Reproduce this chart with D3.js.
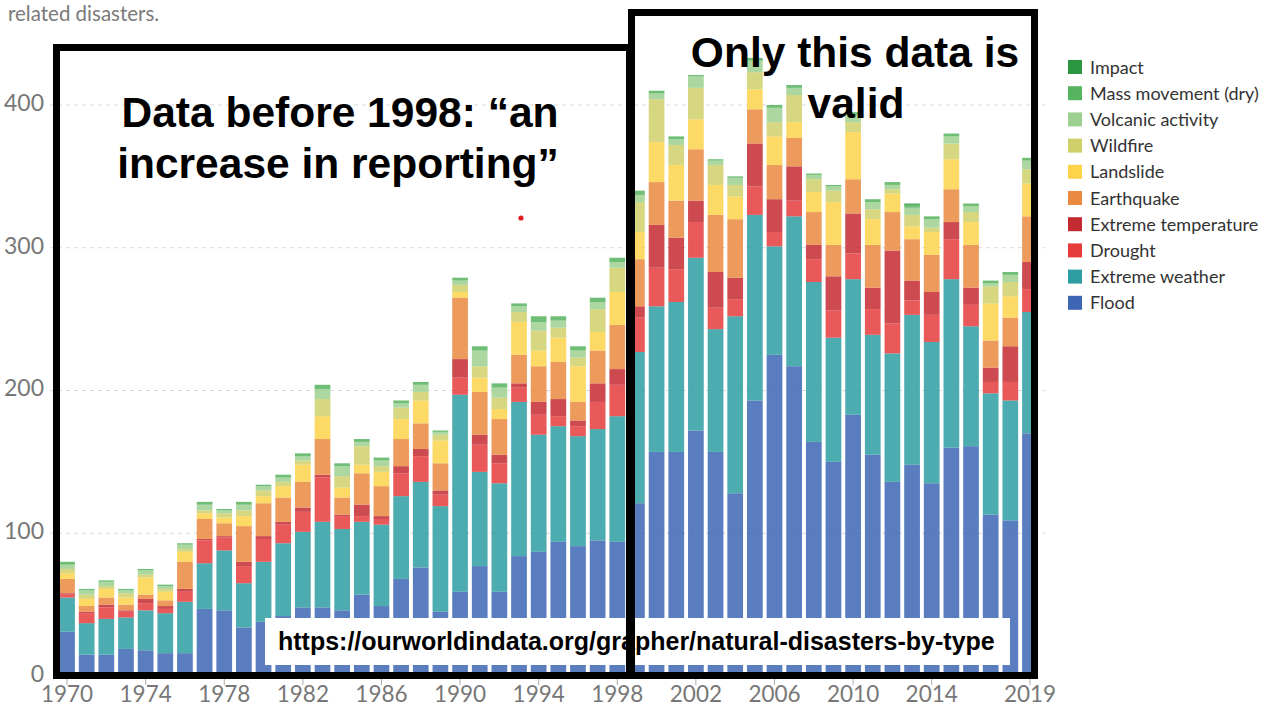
<!DOCTYPE html>
<html><head><meta charset="utf-8">
<script src="https://cdn.jsdelivr.net/npm/d3@7"></script>
<style>body{margin:0;background:#fff}svg{display:block}</style>
</head><body>
<svg id="chart" width="1274" height="708"></svg>
<script>
const years = d3.range(1970, 2020);
const seriesNames = ["Flood","Extreme weather","Drought","Extreme temperature","Earthquake","Landslide","Wildfire","Volcanic activity","Mass movement (dry)","Impact"];
const seriesColors = ["#3d66b4","#2e9ea2","#e63c3c","#c42a32","#ea8a40","#fdd34a","#cfd06a","#9dd090","#56b35e","#2a9640"];
const flood = [31,15,15,19,18,16,16,47,46,34, 38,42,48,48,46,57,49,68,76,45, 59,77,59,84,87,94,91,95,94,121, 157,157,172,157,128,193,225,217,164,150, 183,155,136,148,135,160,161,113,109,170];
const extremeWeather = [24,22,25,22,28,28,36,32,42,31, 42,51,53,60,57,51,57,58,60,74, 138,66,76,108,82,81,77,78,88,106, 102,105,121,86,124,130,76,105,112,87, 95,84,90,105,99,118,84,85,84,85];
const drought = [2,7,8,4,5,3,7,16,9,12, 16,13,14,31,9,4,4,16,18,8, 12,19,14,10,14,7,7,19,22,24, 27,23,25,15,12,20,10,11,16,19, 18,18,21,10,19,28,15,8,13,16];
const extremeTemperature = [1,1,2,1,3,2,2,1,1,3, 2,2,3,2,1,8,2,5,5,3, 13,7,6,3,9,12,4,13,11,8, 30,22,15,25,15,30,23,24,10,24, 28,15,51,14,16,12,12,10,25,19];
const earthquake = [10,4,5,4,3,4,19,14,9,25, 23,17,18,25,12,22,21,19,18,19, 43,30,25,20,25,26,13,23,31,33, 30,26,36,40,41,24,24,20,23,22, 24,30,27,29,26,23,30,19,20,32];
const landslide = [4,5,6,5,12,6,7,4,4,7, 5,8,12,16,7,6,10,14,16,16, 4,10,7,23,11,17,25,13,23,19, 28,25,21,21,16,14,20,11,14,30, 33,18,13,9,16,21,16,26,15,23];
const wildfire = [3,3,2,3,2,2,2,2,3,4, 4,3,3,12,8,13,4,8,6,4, 5,8,8,7,14,7,6,16,17,21, 30,14,22,14,8,12,10,19,9,8, 7,7,3,8,3,11,7,12,10,10];
const volcanic = [3,3,3,2,3,2,3,4,2,4, 3,3,3,7,7,3,4,3,5,2, 3,11,7,4,6,5,5,5,4,5, 4,4,8,3,5,8,10,5,3,3, 5,5,3,5,6,5,4,2,5,6];
const massMovement = [2,1,1,1,1,1,1,2,1,2, 1,2,2,3,2,2,2,2,2,1, 2,3,3,2,4,3,3,3,3,3, 2,2,1,1,1,2,2,2,1,1, 2,2,2,2,2,2,2,2,2,2];
const impact = years.map(y => y === 2013 ? 1 : 0);
const yTicks = [0,100,200,300,400];
const xTickYears = [1970,1974,1978,1982,1986,1990,1994,1998,2002,2006,2010,2014,2019];

const seriesValues = [flood, extremeWeather, drought, extremeTemperature, earthquake, landslide, wildfire, volcanic, massMovement, impact];
const table = years.map((yr, i) => {
  const row = {year: yr};
  seriesNames.forEach((n, k) => row[n] = seriesValues[k][i]);
  return row;
});

const svg = d3.select("#chart");
const x = d3.scaleBand().domain(years).range([57.2, 1039.8]).paddingInner(0.2).paddingOuter(0.1);
const y = d3.scaleLinear().domain([0, 400]).range([676, 105]);
const color = d3.scaleOrdinal().domain(seriesNames).range(seriesColors);

// subtitle (second line visible)
svg.append("text").attr("x", 8).attr("y", 21).attr("font-family", "Lato").attr("font-size", 20.5).attr("fill", "#7a7a7a").text("related disasters.");

// gridlines
svg.append("g").selectAll("line").data(yTicks.filter(d => d > 0)).join("line")
  .attr("x1", 50).attr("x2", 1045).attr("y1", d => y(d)).attr("y2", d => y(d))
  .attr("stroke", "#dadada").attr("stroke-dasharray", "4,4");

// y labels
const yAxis = d3.axisLeft(y).tickValues(yTicks).tickSize(0).tickPadding(0);
const gy = svg.append("g").attr("transform", "translate(44,-2)").call(yAxis);
gy.select(".domain").remove();
gy.selectAll("text").attr("font-family", "Lato").attr("font-size", 23).attr("fill", "#777");

// stacked bars
const stack = d3.stack().keys(seriesNames)(table);
svg.append("g").selectAll("g").data(stack).join("g")
  .attr("fill", d => color(d.key)).attr("fill-opacity", 0.85)
  .selectAll("rect").data(d => d).join("rect")
  .attr("x", d => x(d.data.year)).attr("width", x.bandwidth())
  .attr("y", d => y(d[1])).attr("height", d => Math.max(0, y(d[0]) - y(d[1])));

// x axis
const xAxis = d3.axisBottom(x).tickValues(xTickYears).tickSize(6).tickPadding(1);
const gx = svg.append("g").attr("transform", "translate(0,679)").call(xAxis);
gx.select(".domain").remove();
gx.selectAll(".tick line").attr("stroke", "#aaa");
gx.selectAll("text").attr("font-family", "Lato").attr("font-size", 22.5).attr("fill", "#777");

// legend
const lg = svg.append("g").attr("transform", "translate(1068,60)");
const legendOrder = seriesNames.slice().reverse();
const li = lg.selectAll("g").data(legendOrder).join("g").attr("transform", (d, i) => `translate(0,${i * 26.2})`);
li.append("rect").attr("width", 14).attr("height", 14).attr("fill", d => color(d));
li.append("text").attr("x", 22).attr("y", 13.5).attr("font-family", "Lato").attr("font-size", 18).attr("fill", "#333").text(d => d);

// URL box
svg.append("rect").attr("x", 265).attr("y", 618).attr("width", 745).attr("height", 47).attr("fill", "#fff");
svg.append("text").attr("x", 278).attr("y", 650).attr("font-family", "Liberation Sans, Arial").attr("font-weight", "bold")
  .attr("font-size", 25).attr("fill", "#000").text("https://ourworldindata.org/grapher/natural-disasters-by-type");

// annotation boxes
svg.append("rect").attr("x", 56.5).attr("y", 47.5).attr("width", 573).attr("height", 628)
  .attr("fill", "none").attr("stroke", "#000").attr("stroke-width", 7);
svg.append("rect").attr("x", 631.5).attr("y", 12.5).attr("width", 403).attr("height", 663)
  .attr("fill", "none").attr("stroke", "#000").attr("stroke-width", 7);

const ann = svg.append("g").attr("font-family", "Liberation Sans, Arial").attr("font-weight", "bold").attr("fill", "#000").attr("font-size", 42.5);
ann.append("text").attr("x", 340).attr("y", 127).attr("text-anchor", "middle").text("Data before 1998: “an");
ann.append("text").attr("x", 338).attr("y", 178).attr("text-anchor", "middle").text("increase in reporting”");
ann.append("text").attr("x", 855).attr("y", 67).attr("text-anchor", "middle").text("Only this data is");
ann.append("text").attr("x", 856).attr("y", 118).attr("text-anchor", "middle").text("valid");

svg.append("circle").attr("cx", 521).attr("cy", 218).attr("r", 2.6).attr("fill", "#e02020");
</script>
</body></html>
